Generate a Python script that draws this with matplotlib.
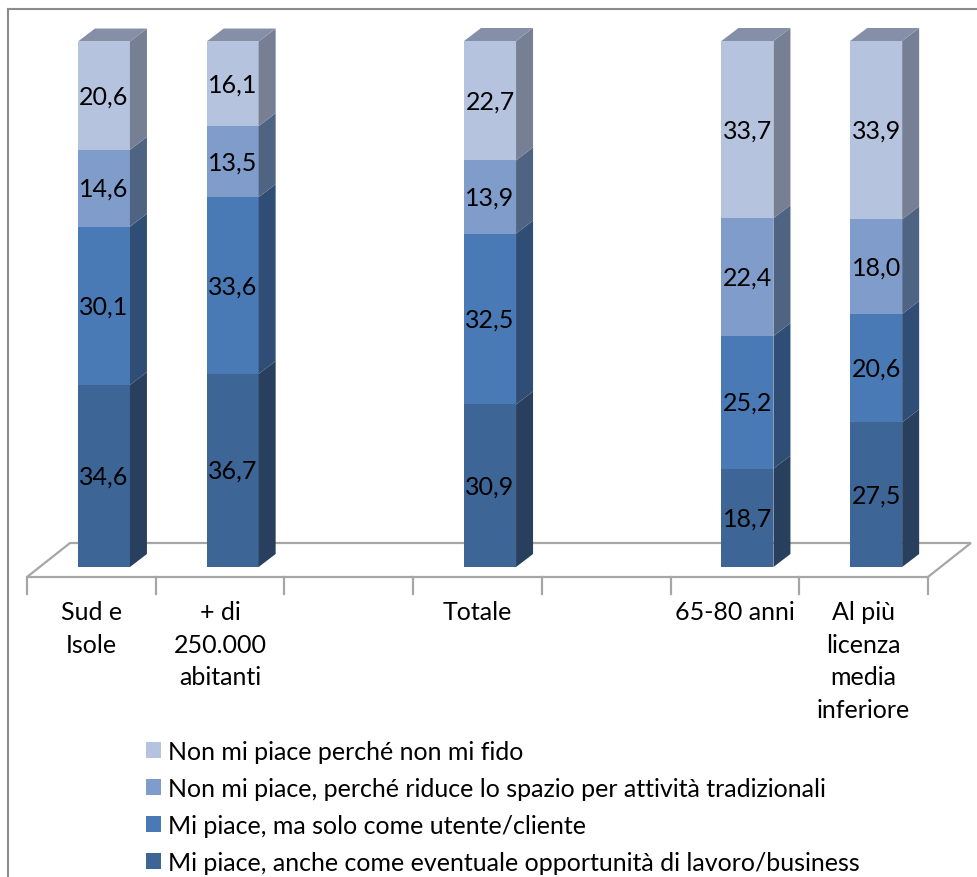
import numpy as np
import matplotlib.pyplot as plt
from matplotlib.patches import Polygon, Rectangle, Patch
from matplotlib.lines import Line2D

plt.rcParams['font.family'] = ['Lato', 'DejaVu Sans']

# categorie (le posizioni vuote restano come spazi tra i gruppi)
categorie = ["Sud e\nIsole", "+ di\n250.000\nabitanti", "", "Totale", "",
             "65-80 anni", "Al più\nlicenza\nmedia\ninferiore"]

nan = np.nan
lavoro = [34.6, 36.7, nan, 30.9, nan, 18.7, 27.5]
utente = [30.1, 33.6, nan, 32.5, nan, 25.2, 20.6]
tradizionali = [14.6, 13.5, nan, 13.9, nan, 22.4, 18.0]
non_fido = [20.6, 16.1, nan, 22.7, nan, 33.7, 33.9]

serie = [lavoro, utente, tradizionali, non_fido]
etichette = ["Mi piace, anche come eventuale opportunità di lavoro/business",
             "Mi piace, ma solo come utente/cliente",
             "Non mi piace, perché riduce lo spazio per attività tradizionali",
             "Non mi piace perché non mi fido"]

col_fronte = ['#3d6596', '#4a7ab6', '#7f9cca', '#b5c3de']
col_lato = ['#283f5e', '#2f4d75', '#4f6483', '#767f94']
col_sopra = '#8590a8'

FS = 18

# geometria (unità: una categoria in x, un punto percentuale in y)
PX_X = 128.7
PX_Y = 5.26
W, H = 978, 878
x0 = -0.5 - 27 / PX_X
y1 = 568 / PX_Y
BAR_W = 52 / PX_X
BAR_OFF = 12.6 / PX_X
DX, DY = 17 / PX_X, 13 / PX_Y
FL_FRONT, FL_BACK = -10 / PX_Y, 24 / PX_Y
FL_DX = 43 / PX_X
TICK = 17 / PX_Y

fig = plt.figure(figsize=(W / 100, H / 100), dpi=100)
ax = fig.add_axes([0, 0, 1, 1])
ax.set_xlim(x0, x0 + W / PX_X)
ax.set_ylim(y1 - H / PX_Y, y1)
ax.axis('off')

# cornice esterna (solo bordo superiore e sinistro visibili)
fig.add_artist(Line2D([8 / W, 1], [1 - 10 / H, 1 - 10 / H],
                      transform=fig.transFigure, color='#8c8c8c', lw=1.5))
fig.add_artist(Line2D([8 / W, 8 / W], [0, 1 - 10 / H],
                      transform=fig.transFigure, color='#8c8c8c', lw=1.5))

# pavimento 3D
n = len(categorie)
pav = [(-0.5, FL_FRONT), (n - 0.5, FL_FRONT),
       (n - 0.5 + FL_DX, FL_BACK), (-0.5 + FL_DX, FL_BACK)]
ax.add_patch(Polygon(pav, closed=True, fill=False, ec='#a6a6a6', lw=1.6))
for k in range(n + 1):
    ax.plot([k - 0.5, k - 0.5], [FL_FRONT, FL_FRONT - TICK],
            color='#a6a6a6', lw=1.6)

# barre impilate
for i in range(n):
    if np.isnan(serie[0][i]):
        continue
    xl = i + BAR_OFF - BAR_W / 2
    xr = xl + BAR_W
    base = 0.0
    for s, vals in enumerate(serie):
        v = vals[i]
        top = base + v
        ax.add_patch(Rectangle((xl, base), BAR_W, v, fc=col_fronte[s],
                               ec='none', zorder=3))
        ax.add_patch(Polygon([(xr, base), (xr + DX, base + DY),
                              (xr + DX, top + DY), (xr, top)],
                             closed=True, fc=col_lato[s], ec='none', zorder=3))
        ax.text(xl + BAR_W / 2, base + v / 2, f"{v:.1f}".replace('.', ','),
                ha='center', va='center', fontsize=FS, color='black',
                zorder=4)
        base = top
    ax.add_patch(Polygon([(xl, base), (xr, base), (xr + DX, base + DY),
                          (xl + DX, base + DY)],
                         closed=True, fc=col_sopra, ec='none', zorder=3))

# etichette delle categorie
for i, c in enumerate(categorie):
    ax.text(i, FL_FRONT - 4.4, c, ha='center', va='top', fontsize=FS,
            linespacing=1.5)

# legenda
maniglie = [Patch(fc=col_fronte[s], ec='none') for s in range(3, -1, -1)]
fig.legend(maniglie, etichette[::-1], loc='upper left',
           bbox_to_anchor=(146 / W, 1 - 741 / H), frameon=False,
           fontsize=FS, handlelength=0.6, handleheight=0.6,
           handletextpad=0.3, labelspacing=0.56, borderpad=0.0,
           borderaxespad=0.0)

fig.savefig('out.png', dpi=100)
